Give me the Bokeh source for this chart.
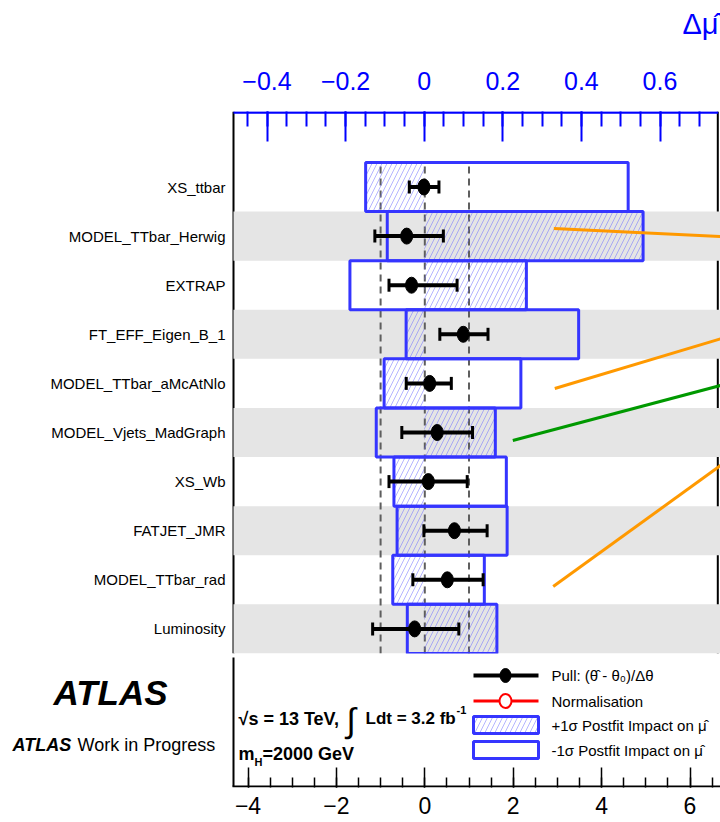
import numpy as np
from bokeh.plotting import figure
from bokeh.layouts import column
from bokeh.models import Range1d, LinearAxis, FixedTicker
from bokeh.core.properties import value
from bokeh.embed import file_html
from bokeh.resources import INLINE

# ---------------- data ----------------
params = ["XS_ttbar", "MODEL_TTbar_Herwig", "EXTRAP", "FT_EFF_Eigen_B_1",
          "MODEL_TTbar_aMcAtNlo", "MODEL_Vjets_MadGraph", "XS_Wb", "FATJET_JMR",
          "MODEL_TTbar_rad", "Luminosity"]
# +1 sigma / -1 sigma postfit impact on mu-hat
impact_up = [-0.149, 0.557, 0.260, -0.046, -0.102, 0.181, -0.077, -0.069, -0.080, 0.185]
impact_down = [0.519, -0.094, -0.189, 0.393, 0.246, -0.122, 0.209, 0.211, 0.153, -0.043]
# pulls (theta_hat - theta_0)/dtheta with their error bars
pull_val = [-0.02, -0.41, -0.30, 0.87, 0.11, 0.28, 0.08, 0.67, 0.51, -0.23]
pull_lo = [-0.35, -1.13, -0.81, 0.34, -0.42, -0.52, -0.81, -0.02, -0.27, -1.18]
pull_hi = [0.32, 0.42, 0.73, 1.43, 0.60, 1.08, 0.96, 1.41, 1.32, 0.77]
# stray coloured lines visible in the figure (pull units / row units)
extra_x0 = [2.919, 2.941, 1.991, 2.905]
extra_y0 = [8.155, 4.896, 3.837, 0.863]
extra_x1 = [6.80, 6.80, 6.80, 6.80]
extra_y1 = [7.987, 5.938, 4.983, 3.399]
extra_colors = ["#ff9900", "#ff9900", "#009900", "#ff9900"]
ref_pulls = [-1, 0, 1]
pull_ticks = [-4, -2, 0, 2, 4, 6]
dmu_ticks = [-0.4, -0.2, 0.0, 0.2, 0.4, 0.6]

# ---------------- layout helpers ----------------
FONT = "Liberation Sans"
BLUE = "#3535ff"
HATCH = dict(hatch_pattern="/", hatch_color="#6a6aff", hatch_alpha=0.5,
             hatch_scale=10, hatch_weight=1)


def px2x(px):  # page pixel -> pull units
    return (px - 424.3) / 44.2


def px2mu(px):  # page pixel -> delta-mu units
    return (px - 423.7) / 393.0


def py2y(py):  # page pixel -> row units
    return 9 - (py - 186.5) / 49.1


def txt(f, x, y, s, size, style="normal", font=FONT, color="black", align="left"):
    f.text(x=[x], y=[y], text=[s], text_font=value(font), text_font_size=value(size),
           text_font_style=style, text_color=color, text_align=align,
           text_baseline="middle")


def bare(f):
    f.grid.visible = False
    f.outline_line_color = None
    return f


n = len(params)
row_y = [n - 1 - i for i in range(n)]
PX0, PX1 = px2x(233), px2x(720)      # pad edges in pull units

# ---------------- strip with the delta-mu title ----------------
T = bare(figure(width=720, height=40, output_backend="svg", toolbar_location=None,
                title=None, x_range=Range1d(0, 720), y_range=Range1d(40, 0),
                min_border=0, x_axis_location=None, y_axis_location=None))
txt(T, 718, 23, "\u0394\u03bc\u0302", "29px", color="blue", align="right")

# ---------------- upper pad ----------------
U = bare(figure(width=720, height=615, output_backend="svg", toolbar_location=None,
                title=None, x_range=Range1d(px2x(0), PX1),
                y_range=Range1d(py2y(653), py2y(111)),
                min_border_left=0, min_border_right=0, min_border_top=71,
                min_border_bottom=2, x_axis_location=None, y_axis_location=None))
U.extra_x_ranges = {"dmu": Range1d(px2mu(0), px2mu(720))}

xt = LinearAxis(x_range_name="dmu",
                ticker=FixedTicker(ticks=dmu_ticks,
                                   minor_ticks=[round(v, 2) for v in np.arange(-0.45, 0.71, 0.05)]))
xt.major_label_overrides = {v: (("\u2212%.1f" % -v) if v < 0 else ("0" if v == 0 else "%.1f" % v))
                            for v in dmu_ticks}
xt.axis_line_color = None
xt.major_tick_in = 30
xt.major_tick_out = 0
xt.minor_tick_in = 15
xt.minor_tick_out = 0
for attr in ("major_tick_line_color", "minor_tick_line_color", "major_label_text_color"):
    setattr(xt, attr, "blue")
xt.major_tick_line_width = 2
xt.minor_tick_line_width = 2
xt.major_label_text_font = FONT
xt.major_label_text_font_size = "25px"
xt.major_label_standoff = 22
U.add_layout(xt, "above")

# parameter names
U.text(x=[px2x(225)] * n, y=row_y, text=params, text_font=value(FONT),
       text_font_size=value("15px"), text_color="black", text_align="right",
       text_baseline="middle")

# pad frame: left edge, right edge, blue top axis line
U.segment(x0=[PX0], x1=[PX0], y0=[py2y(653)], y1=[py2y(111)], line_color="black", line_width=2)
U.segment(x0=[px2x(717.3)], x1=[px2x(717.3)], y0=[-0.5], y1=[py2y(111)],
          line_color="black", line_width=2)
U.segment(x0=[PX0], x1=[px2x(717.7)], y0=[py2y(112)], y1=[py2y(112)],
          line_color="blue", line_width=2.5)

# alternating grey bands
band_y = [row_y[i] for i in range(n) if i % 2 == 1]
U.quad(left=PX0, right=PX1, bottom=[y - 0.5 for y in band_y], top=[y + 0.5 for y in band_y],
       fill_color="#e5e5e5", line_color=None)

# dashed reference lines at pull -1, 0, 1
U.segment(x0=ref_pulls, x1=ref_pulls, y0=-0.5, y1=n - 0.5,
          line_color="#5e5e5e", line_width=2, line_dash="7 5")

# impact boxes (delta-mu axis)
up_l = [min(0.0, u) for u in impact_up]
up_r = [max(0.0, u) for u in impact_up]
box_l = [min(u, d) for u, d in zip(impact_up, impact_down)]
box_r = [max(u, d) for u, d in zip(impact_up, impact_down)]
bot = [y - 0.5 for y in row_y]
top = [y + 0.5 for y in row_y]
U.quad(left=up_l, right=up_r, bottom=bot, top=top, x_range_name="dmu",
       fill_color=None, line_color=None, **HATCH)
U.quad(left=box_l, right=box_r, bottom=bot, top=top, x_range_name="dmu",
       fill_color=None, line_color=BLUE, line_width=3)

# pulls
U.segment(x0=pull_lo, x1=pull_hi, y0=row_y, y1=row_y, line_color="black", line_width=4)
U.scatter(x=pull_lo + pull_hi, y=row_y + row_y, marker="dash", angle=np.pi / 2,
          size=13, line_color="black", line_width=3)
U.ellipse(x=pull_val, y=row_y, width=12, height=16, width_units="screen",
          height_units="screen", fill_color="black", line_color="black")

# stray coloured lines
U.segment(x0=extra_x0, y0=extra_y0, x1=extra_x1, y1=extra_y1,
          line_color=extra_colors, line_width=3)

# ---------------- lower pad: labels, legend, pull axis ----------------
# y in page pixels (787 at the bottom of the frame, 655 at its top)
L = bare(figure(width=720, height=167, output_backend="svg", toolbar_location=None,
                title=None, x_range=Range1d(px2x(0), PX1), y_range=Range1d(787, 655),
                min_border_left=0, min_border_right=0, min_border_top=0,
                min_border_bottom=35, x_axis_location=None, y_axis_location=None))
xb = LinearAxis(ticker=FixedTicker(ticks=pull_ticks,
                                   minor_ticks=list(np.arange(-4.0, 6.6, 0.5))))
xb.major_label_overrides = {v: ("\u2212%d" % -v if v < 0 else "%d" % v) for v in pull_ticks}
xb.axis_line_color = None
xb.major_tick_in = 20
xb.major_tick_out = 0
xb.minor_tick_in = 10
xb.minor_tick_out = 0
xb.major_tick_line_width = 1.5
xb.minor_tick_line_width = 1.5
xb.major_label_text_font = FONT
xb.major_label_text_font_size = "23px"
xb.major_label_text_color = "black"
xb.major_label_standoff = 9
L.add_layout(xb, "below")

# frame edges of the lower pad
L.segment(x0=[PX0], x1=[PX0], y0=[657], y1=[786], line_color="black", line_width=2)
L.segment(x0=[px2x(232)], x1=[PX1], y0=[786], y1=[786], line_color="black", line_width=2)

# legend keys
lx0, lx1, lxc = px2x(473), px2x(538), px2x(505)
L.segment(x0=[lx0], x1=[lx1], y0=[675], y1=[675], line_color="black", line_width=4)
L.ellipse(x=[lxc], y=[675], width=11, height=14, width_units="screen",
          height_units="screen", fill_color="black", line_color="black")
L.segment(x0=[lx0], x1=[lx1], y0=[700.5], y1=[700.5], line_color="red", line_width=3)
L.ellipse(x=[lxc], y=[700.5], width=12, height=14, width_units="screen",
          height_units="screen", fill_color="white", line_color="red", line_width=2)
L.quad(left=[lx0], right=[lx1], bottom=[733], top=[716],
       fill_color="white", line_color=BLUE, line_width=3, **HATCH)
L.quad(left=[lx0], right=[lx1], bottom=[758], top=[741],
       fill_color="white", line_color=BLUE, line_width=3)

txt(L, px2x(551), 675, "Pull: (\u03b8\u0302 - \u03b8\u2080)/\u0394\u03b8", "15px")
txt(L, px2x(551), 700.5, "Normalisation", "15px")
txt(L, px2x(551), 725, "+1\u03c3 Postfit Impact on \u03bc\u0302", "15px")
txt(L, px2x(551), 750, "-1\u03c3 Postfit Impact on \u03bc\u0302", "15px")

# ATLAS labels
txt(L, px2x(53), 692, "ATLAS", "35px", style="bold italic")
txt(L, px2x(12), 744, "ATLAS", "18px", style="bold italic")
txt(L, px2x(77), 744, "Work in Progress", "18px")

# energy / lumi / mass
txt(L, px2x(238), 718, "\u221as = 13 TeV,", "18px", style="bold")
txt(L, px2x(346), 719, "\u222b", "34px")
txt(L, px2x(365), 718, "Ldt = 3.2 fb", "17px", style="bold")
txt(L, px2x(456), 709, "-1", "11px", style="bold")
txt(L, px2x(238), 753.5, "m", "18px", style="bold")
txt(L, px2x(254), 761, "H", "11px", style="bold")
txt(L, px2x(262), 753.5, "=2000 GeV", "18px", style="bold")

page = column(T, U, L)
open("out.html", "w").write(file_html(page, INLINE))
